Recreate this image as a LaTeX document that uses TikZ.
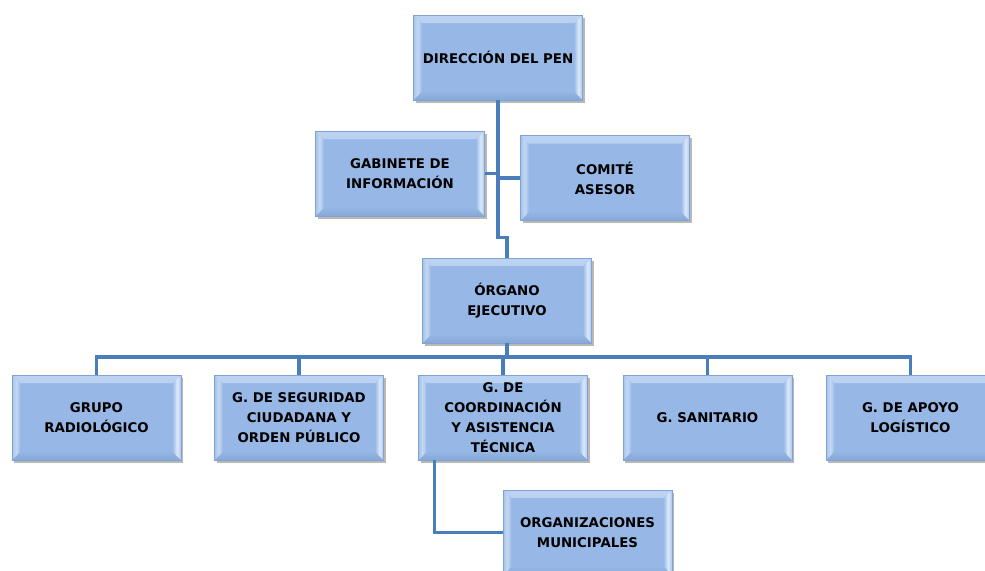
\documentclass[tikz,border=0pt]{standalone}
\usepackage{fontspec}
\setmainfont{DejaVu Sans}
\usetikzlibrary{calc,shadows}
\definecolor{boxc}{HTML}{97B8E6}
\definecolor{boxedge}{HTML}{7FA3D3}
\definecolor{bvtop}{HTML}{BCD3F2}
\definecolor{bvleft}{HTML}{C4D8F3}
\definecolor{bvright}{HTML}{DCE8F9}
\definecolor{bvbot}{HTML}{86A8D8}
\definecolor{linec}{HTML}{4A7EBB}
\tikzset{
  bx/.style={rectangle, fill=boxc, draw=boxedge, line width=0.4pt,
    minimum width=126.75pt, minimum height=63.75pt, inner sep=0pt,
    align=center, font=\bfseries\fontsize{10}{15}\selectfont,
    drop shadow={shadow xshift=1.8pt, shadow yshift=-2.2pt, fill=black!28, opacity=1},
    path picture={
      \def\pp{path picture bounding box}
      \shade[top color=bvtop, bottom color=boxc!80!bvtop] (\pp.north west) -- (\pp.north east) -- ([shift={(-6pt,-6pt)}]\pp.north east) -- ([shift={(6pt,-6pt)}]\pp.north west) -- cycle;
      \shade[top color=boxc!85!bvbot, bottom color=bvbot] (\pp.south west) -- (\pp.south east) -- ([shift={(-6pt,6pt)}]\pp.south east) -- ([shift={(6pt,6pt)}]\pp.south west) -- cycle;
      \shade[left color=boxc!70!bvleft, right color=boxc!90!white, middle color=bvleft] (\pp.north west) -- (\pp.south west) -- ([shift={(6pt,6pt)}]\pp.south west) -- ([shift={(6pt,-6pt)}]\pp.north west) -- cycle;
      \shade[left color=boxc!90!white, right color=boxc!70!bvright, middle color=bvright] (\pp.north east) -- (\pp.south east) -- ([shift={(-6pt,6pt)}]\pp.south east) -- ([shift={(-6pt,-6pt)}]\pp.north east) -- cycle;
    }},
  ln/.style={draw=linec, line width=2.3pt}
}
\begin{document}
\begin{tikzpicture}[x=0.75pt,y=-0.75pt]
\useasboundingbox (0,0) rectangle (985,571);
% boxes
\node[bx] (dir) at (498,57.5) {DIRECCIÓN DEL PEN};
\node[bx] (gab) at (400,173.5) {GABINETE DE\\INFORMACIÓN};
\node[bx] (com) at (605,178) {COMITÉ\\ASESOR};
\node[bx] (org) at (507,300.5) {ÓRGANO\\EJECUTIVO};
\node[bx] (g1) at (96.5,417.5) {GRUPO\\RADIOLÓGICO};
\node[bx] (g2) at (299,417.5) {G. DE SEGURIDAD\\CIUDADANA Y\\ORDEN PÚBLICO};
\node[bx] (g3) at (503,417.5) {G. DE\\COORDINACIÓN\\Y ASISTENCIA\\TÉCNICA};
\node[bx] (g4) at (707.5,417.5) {G. SANITARIO};
\node[bx] (g5) at (910.5,417.5) {G. DE APOYO\\LOGÍSTICO};
\node[bx] (mun) at (587.5,532.5) {ORGANIZACIONES\\MUNICIPALES};
% connectors
\coordinate (bus) at (0,357);
\draw[ln] (dir.south) |- ($(org.north)+(0,-20)$) -- (org.north);
\draw[ln] (gab.east) -- (gab.east -| dir.south);
\draw[ln] (com.west) -- (com.west -| dir.south);
\draw[ln] (org.south) -- (org.south |- bus);
\draw[ln] (g1.north) -- (g1.north |- bus) -- (g5.north |- bus) -- (g5.north);
\draw[ln] (g2.north) -- (g2.north |- bus);
\draw[ln] (g3.north) -- (g3.north |- bus);
\draw[ln] (g4.north) -- (g4.north |- bus);
\draw[ln] ([xshift=12pt]g3.south west) |- (mun.west);
\end{tikzpicture}
\end{document}
